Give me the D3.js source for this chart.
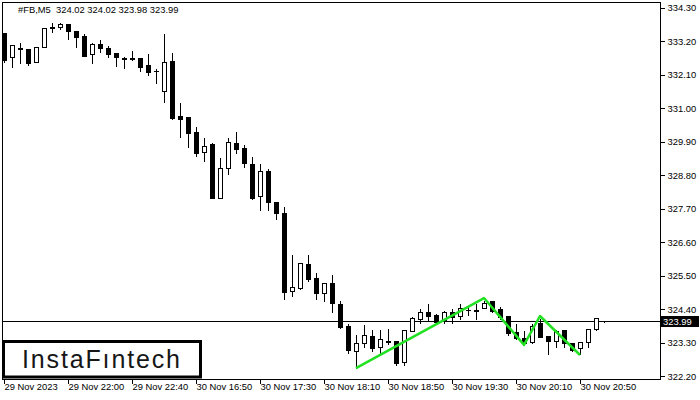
<!DOCTYPE html>
<html>
<head>
<meta charset="utf-8">
<script src="https://cdn.jsdelivr.net/npm/d3@7"></script>
<style>
	body { margin: 0; background: #fff; }
	svg text { font-family: "Liberation Sans", Arial, sans-serif; }
</style>
</head>
<body>
<svg width="700" height="400"></svg>
<script>

// #FB M5 bars, 29 Nov 21:20 .. 30 Nov 21:05
var open = [
	333.46, 332.67, 332.97, 332.94, 332.51, 333.00, 333.66, 333.66, 333.76, 333.53,
	333.36, 332.77, 333.10, 332.97, 332.81, 332.64, 332.64, 332.64, 332.41, 332.21,
	331.56, 332.54, 330.74, 330.70, 330.21, 329.55, 329.82, 328.04, 329.03, 329.85,
	329.69, 329.16, 328.11, 328.93, 327.91, 327.55, 324.99, 325.09, 325.88, 325.42,
	324.92, 325.25, 324.56, 323.84, 323.02, 323.28, 323.51, 323.15, 323.35, 323.35,
	322.66, 323.68, 324.07, 324.30, 324.20, 324.04, 324.30, 324.17, 324.37, 324.37,
	324.43, 324.66, 324.40, 324.17, 323.64, 323.45, 323.31, 323.94, 323.51, 323.35,
	323.71, 323.28, 323.12, 323.31, 323.74, 324.02];

var high = [
	333.50, 333.07, 333.17, 332.97, 333.00, 333.66, 333.82, 333.83, 333.79, 333.53,
	333.46, 333.17, 333.27, 333.07, 332.81, 332.71, 332.90, 332.64, 332.81, 332.31,
	333.46, 332.84, 331.20, 330.70, 330.41, 330.05, 329.88, 329.39, 330.05, 330.24,
	329.82, 329.42, 329.19, 329.03, 327.91, 327.78, 326.20, 325.91, 326.20, 325.61,
	325.28, 325.55, 324.69, 323.94, 323.58, 323.91, 323.74, 323.74, 323.77, 323.38,
	323.71, 324.17, 324.43, 324.60, 324.27, 324.37, 324.43, 324.60, 324.50, 324.60,
	324.69, 324.69, 324.50, 324.20, 323.94, 323.71, 323.94, 324.10, 323.51, 323.74,
	323.71, 323.31, 323.31, 323.77, 324.10, 324.02];

var low = [
	332.50, 332.35, 332.48, 332.41, 332.51, 333.00, 333.50, 333.61, 333.27, 333.00,
	332.71, 332.48, 332.84, 332.67, 332.38, 332.31, 332.58, 332.21, 332.08, 331.82,
	331.20, 330.64, 330.05, 329.72, 329.42, 329.26, 328.04, 328.04, 328.83, 329.52,
	329.06, 328.01, 327.65, 327.65, 327.35, 324.73, 324.83, 325.06, 325.32, 324.73,
	324.66, 324.30, 323.77, 322.95, 322.46, 323.15, 323.02, 322.95, 323.25, 322.56,
	322.56, 323.68, 323.94, 324.00, 323.94, 323.94, 323.94, 324.07, 324.20, 324.07,
	324.43, 324.30, 324.07, 323.54, 323.41, 323.22, 323.28, 323.48, 322.92, 323.15,
	323.15, 323.02, 322.92, 323.15, 323.71, 323.98];

var close = [
	332.58, 333.07, 332.95, 332.48, 333.00, 333.63, 333.63, 333.76, 333.53, 333.33,
	332.71, 333.10, 332.97, 332.77, 332.67, 332.61, 332.61, 332.35, 332.18, 332.20,
	332.51, 330.67, 330.64, 330.18, 329.52, 329.75, 328.04, 329.03, 329.88, 329.65,
	329.19, 328.04, 328.93, 327.91, 327.55, 324.96, 325.12, 325.91, 325.38, 324.92,
	325.25, 324.60, 323.81, 323.05, 323.28, 323.54, 323.12, 323.41, 323.33, 322.63,
	323.71, 324.10, 324.30, 324.17, 323.97, 324.30, 324.14, 324.43, 324.36, 324.35,
	324.60, 324.33, 324.14, 323.61, 323.45, 323.28, 323.84, 323.48, 323.35, 323.68,
	323.28, 323.05, 323.31, 323.74, 324.10, 323.99];

// pattern outline (bar index, price)
var patternBars = [44, 60, 65, 67, 72];
var patternPrices = [322.46, 324.76, 323.22, 324.17, 322.89];

var lastPrice = 323.99;
var header = "#FB,M5  324.02 324.02 323.98 323.99";

var xLabelBars = [0, 8, 16, 24, 32, 40, 48, 56, 64, 72];
var xLabels = ["29 Nov 2023", "29 Nov 22:00", "29 Nov 22:40", "30 Nov 16:50", "30 Nov 17:30",
	"30 Nov 18:10", "30 Nov 18:50", "30 Nov 19:30", "30 Nov 20:10", "30 Nov 20:50"];
var yTicks = [334.30, 333.20, 332.10, 331.00, 329.90, 328.80, 327.70, 326.60, 325.50, 324.40, 323.30, 322.20];

function start(){

	var svg = d3.select("svg"),
		left = 2, top = 2, right = 660, bottom = 379;

	var x = d3.scaleLinear().domain([0, open.length - 1]).range([4, 604]),
		y = d3.scaleLinear().domain([322.2, 334.3]).range([376, 7.5]);

	function px(i){ return Math.round(x(i)) + 0.5; }
	function py(v){ return Math.round(y(v)) + 0.5; }

	svg.append("defs").append("clipPath").attr("id", "plot")
		.append("rect").attr("x", left).attr("y", top)
		.attr("width", right - left).attr("height", bottom - top);

	var plot = svg.append("g").attr("clip-path", "url(#plot)");

	// current price line
	plot.append("line")
		.attr("x1", left).attr("x2", right)
		.attr("y1", py(lastPrice)).attr("y2", py(lastPrice))
		.attr("stroke", "#000").attr("stroke-width", 1);

	var bars = plot.append("g").attr("shape-rendering", "crispEdges")
		.selectAll("g").data(open).enter().append("g");

	bars.append("line")
		.attr("x1", function(d, i){ return px(i); })
		.attr("x2", function(d, i){ return px(i); })
		.attr("y1", function(d, i){ return py(high[i]); })
		.attr("y2", function(d, i){ return py(low[i]) + 0.5; })
		.attr("stroke", "#000");

	bars.each(function(d, i){
		var g = d3.select(this),
			yo = py(open[i]), yc = py(close[i]),
			top = Math.min(yo, yc), h = Math.abs(yo - yc);
		if (h < 1) {
			g.append("line")
				.attr("x1", px(i) - 2.5).attr("x2", px(i) + 2.5)
				.attr("y1", top).attr("y2", top)
				.attr("stroke", "#000");
		} else {
			g.append("rect")
				.attr("x", px(i) - 2).attr("y", top)
				.attr("width", 4).attr("height", h)
				.attr("fill", close[i] >= open[i] ? "#fff" : "#000")
				.attr("stroke", "#000");
		}
	});

	// pattern lines
	plot.append("path")
		.datum(patternBars)
		.attr("d", d3.line()
			.x(function(d){ return x(d); })
			.y(function(d, i){ return y(patternPrices[i]); }))
		.attr("fill", "none")
		.attr("stroke", "#22e022")
		.attr("stroke-width", 2.5)
		.attr("stroke-linejoin", "round");

	svg.append("text")
		.attr("x", 18).attr("y", 13)
		.attr("font-size", "9.4px")
		.attr("fill", "#000")
		.attr("xml:space", "preserve")
		.text(header);

	// frame
	svg.append("rect")
		.attr("x", left + 0.5).attr("y", top + 0.5)
		.attr("width", right - left).attr("height", bottom - top)
		.attr("fill", "none").attr("stroke", "#000")
		.attr("shape-rendering", "crispEdges");

	var yAxis = svg.append("g")
		.attr("transform", "translate(" + (right + 0.5) + ",0)")
		.call(d3.axisRight(y).tickValues(yTicks).tickSize(4).tickPadding(3)
			.tickFormat(d3.format(".2f")));
	yAxis.select(".domain").remove();
	yAxis.selectAll("text").attr("font-size", "9.4px").attr("font-family", null);
	yAxis.selectAll("line").attr("shape-rendering", "crispEdges");

	var xAxis = svg.append("g")
		.attr("transform", "translate(0," + (bottom + 0.5) + ")")
		.call(d3.axisBottom(x).tickValues(xLabelBars).tickSize(4).tickPadding(0)
			.tickFormat(function(d, i){ return xLabels[i]; }));
	xAxis.select(".domain").remove();
	xAxis.selectAll("text").attr("font-size", "9.4px").attr("font-family", null)
		.attr("text-anchor", "start").attr("dx", 0);
	xAxis.selectAll("line").attr("shape-rendering", "crispEdges");

	// price tag
	svg.append("rect")
		.attr("x", right + 1).attr("y", py(lastPrice) - 5.5)
		.attr("width", 38).attr("height", 11)
		.attr("fill", "#000");
	svg.append("text")
		.attr("x", right + 3).attr("y", py(lastPrice))
		.attr("dy", "0.35em")
		.attr("font-size", "9.4px")
		.attr("fill", "#fff")
		.text(d3.format(".2f")(lastPrice));

	// logo
	svg.append("rect")
		.attr("x", 3.5).attr("y", 341.5)
		.attr("width", 197).attr("height", 35.5)
		.attr("fill", "#fff").attr("stroke", "#000").attr("stroke-width", 3);
	svg.append("text")
		.attr("x", 22).attr("y", 367.5)
		.attr("font-size", "25px")
		.attr("font-weight", 500)
		.attr("font-family", "Inter, 'Noto Sans', sans-serif")
		.attr("fill", "#161616")
		.attr("textLength", 158)
		.text("InstaFıntech");
}

start();
</script>
</body>
</html>
